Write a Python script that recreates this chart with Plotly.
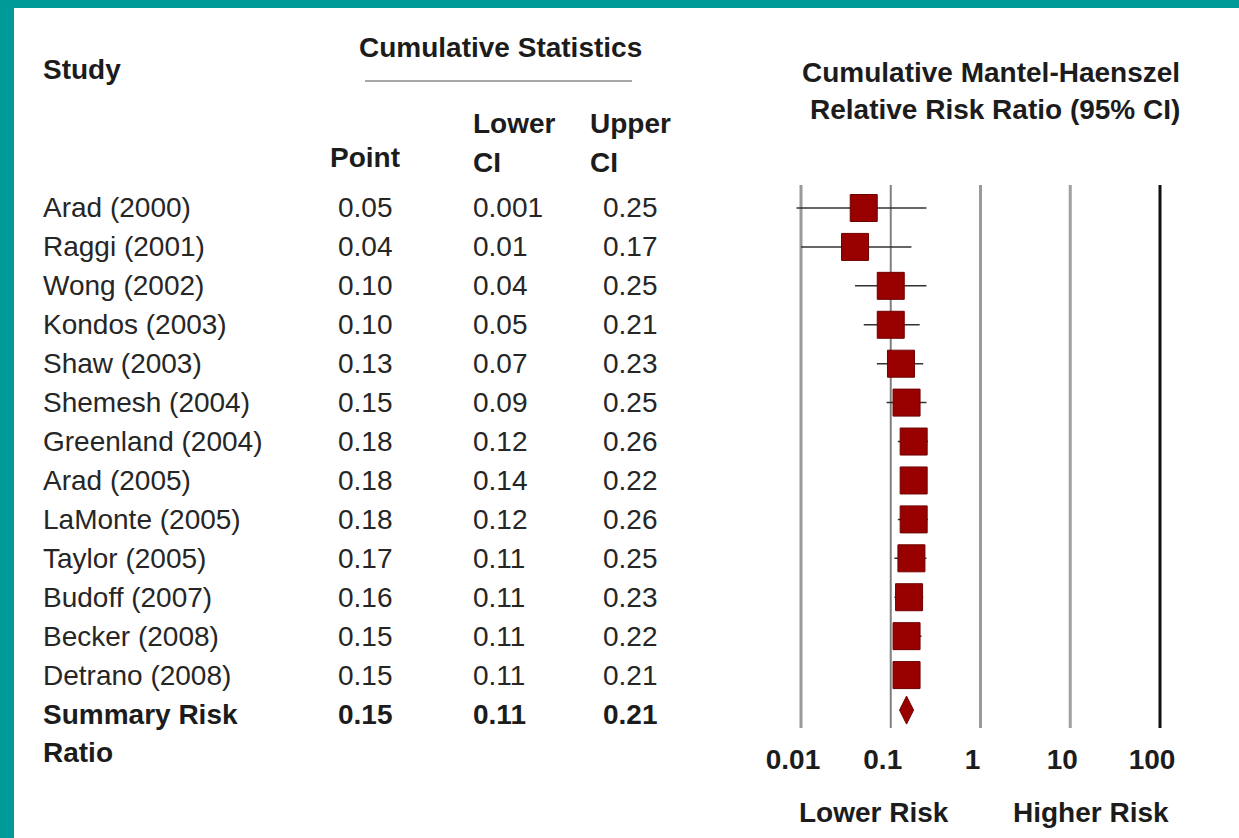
import plotly.graph_objects as go

# ---- data ----
studies = ["Arad (2000)", "Raggi (2001)", "Wong (2002)", "Kondos (2003)", "Shaw (2003)",
           "Shemesh (2004)", "Greenland (2004)", "Arad (2005)", "LaMonte (2005)",
           "Taylor (2005)", "Budoff (2007)", "Becker (2008)", "Detrano (2008)"]
point = [0.05, 0.04, 0.10, 0.10, 0.13, 0.15, 0.18, 0.18, 0.18, 0.17, 0.16, 0.15, 0.15]
lower = [0.001, 0.01, 0.04, 0.05, 0.07, 0.09, 0.12, 0.14, 0.12, 0.11, 0.11, 0.11, 0.11]
upper = [0.25, 0.17, 0.25, 0.21, 0.23, 0.25, 0.26, 0.22, 0.26, 0.25, 0.23, 0.22, 0.21]
point_txt = ["0.05", "0.04", "0.10", "0.10", "0.13", "0.15", "0.18", "0.18", "0.18", "0.17", "0.16", "0.15", "0.15"]
lower_txt = ["0.001", "0.01", "0.04", "0.05", "0.07", "0.09", "0.12", "0.14", "0.12", "0.11", "0.11", "0.11", "0.11"]
upper_txt = ["0.25", "0.17", "0.25", "0.21", "0.23", "0.25", "0.26", "0.22", "0.26", "0.25", "0.23", "0.22", "0.21"]

summary_label = "Summary Risk"
summary_point, summary_lower, summary_upper = 0.15, 0.11, 0.21
summary_txt = ["0.15", "0.11", "0.21"]

ref_values = [0.01, 0.1, 1, 10, 100]
ref_colors = ["#9a9a9a", "#808080", "#9a9a9a", "#a0a0a0", "#111111"]
ref_widths = [3, 2, 3, 3, 3]
tick_text = ["0.01", "0.1", "1", "10", "100"]

W, H = 1239, 838
FONT = "Liberation Sans, Arial, sans-serif"
TXT = "#1c1c1c"
BODY = "#262626"
BOX = "#990000"
TEAL = "#009a99"


def px(x):
    return x / W


def py(y):
    return 1 - y / H


rows = list(range(len(studies)))
sum_row = len(studies)
row_step = 38.92
y_top = -(208 - 185) / row_step
y_bot = sum_row + (728 - 714) / row_step

fig = go.Figure()

# reference lines at each decade
for v, c, w in zip(ref_values, ref_colors, ref_widths):
    fig.add_trace(go.Scatter(x=[v, v], y=[y_top, y_bot], mode="lines",
                             line=dict(color=c, width=w), hoverinfo="skip", showlegend=False))

# confidence interval whiskers
ci_x, ci_y = [], []
for i, lo, hi in zip(rows, lower, upper):
    ci_x += [lo, hi, None]
    ci_y += [i, i, None]
fig.add_trace(go.Scatter(x=ci_x, y=ci_y, mode="lines", line=dict(color="#333333", width=1.5),
                         hoverinfo="skip", showlegend=False))

# cumulative point estimates
fig.add_trace(go.Scatter(x=point, y=rows, mode="markers",
                         marker=dict(symbol="square", size=27, color=BOX,
                                     line=dict(color="#6e0000", width=1)),
                         showlegend=False))

# summary estimate
fig.add_trace(go.Scatter(x=[summary_point], y=[sum_row - 0.1], mode="markers",
                         marker=dict(symbol="diamond-tall", size=20, color=BOX,
                                     line=dict(color="#6e0000", width=1)),
                         showlegend=False))

annotations = []


def add_text(text, x, y, yref="paper", anchor="left", bold=False, size=28):
    annotations.append(dict(
        text=f"<b>{text}</b>" if bold else text,
        x=x, y=y, xref="paper", yref=yref, xanchor=anchor, yanchor="middle",
        showarrow=False, font=dict(family=FONT, size=size, color=TXT if bold else BODY)))


# table body
for i in rows:
    add_text(studies[i], px(41), i, yref="y")
    add_text(point_txt[i], px(366), i, yref="y", anchor="center")
    add_text(lower_txt[i], px(471), i, yref="y")
    add_text(upper_txt[i], px(630), i, yref="y", anchor="center")

add_text(summary_label, px(41), sum_row, yref="y", bold=True)
add_text("Ratio", px(41), py(752), bold=True)
add_text(summary_txt[0], px(366), sum_row, yref="y", anchor="center", bold=True)
add_text(summary_txt[1], px(471), sum_row, yref="y", bold=True)
add_text(summary_txt[2], px(630), sum_row, yref="y", anchor="center", bold=True)

# headers
add_text("Study", px(41), py(70), bold=True)
add_text("Cumulative Statistics", px(500), py(48), anchor="center", bold=True)
add_text("Point", px(365), py(157), anchor="center", bold=True)
add_text("Lower", px(471), py(124), bold=True)
add_text("CI", px(471), py(162), bold=True)
add_text("Upper", px(588), py(124), bold=True)
add_text("CI", px(588), py(162), bold=True)
add_text("Cumulative Mantel-Haenszel", px(991), py(72), anchor="center", bold=True)
add_text("Relative Risk Ratio (95% CI)", px(995), py(110), anchor="center", bold=True)
add_text("Lower Risk", px(874), py(812), anchor="center", bold=True)
add_text("Higher Risk", px(1091), py(812), anchor="center", bold=True)

shapes = [
    # frame strips
    dict(type="rect", xref="paper", yref="paper", x0=0, x1=1, y0=py(8), y1=1,
         fillcolor=TEAL, line=dict(width=0), layer="below"),
    dict(type="rect", xref="paper", yref="paper", x0=0, x1=px(14), y0=0, y1=1,
         fillcolor=TEAL, line=dict(width=0), layer="below"),
    # rule under the statistics header
    dict(type="line", xref="paper", yref="paper", x0=px(365), x1=px(632), y0=py(81), y1=py(81),
         line=dict(color="#8a8a8a", width=1.5)),
]

dec = 89.75
fig.update_layout(
    width=W, height=H,
    margin=dict(l=0, r=0, t=0, b=0, pad=0, autoexpand=False),
    paper_bgcolor="white", plot_bgcolor="white",
    annotations=annotations, shapes=shapes,
    xaxis=dict(type="log", range=[-2.05, 2.05],
               domain=[px(801 - 0.05 * dec), px(1160 + 0.05 * dec)],
               tickvals=ref_values, ticktext=[f"<b>{t}</b>" for t in tick_text],
               tickfont=dict(family=FONT, size=28, color=TXT),
               showgrid=False, zeroline=False, showline=False, automargin=False,
               ticks="outside", ticklen=6, tickcolor="rgba(0,0,0,0)",
               ticklabelshift=-8, fixedrange=True),
    yaxis=dict(range=[y_bot, y_top], domain=[py(728), py(185)],
               visible=False, automargin=False, fixedrange=True),
    showlegend=False,
)

fig.write_html("out.html")
